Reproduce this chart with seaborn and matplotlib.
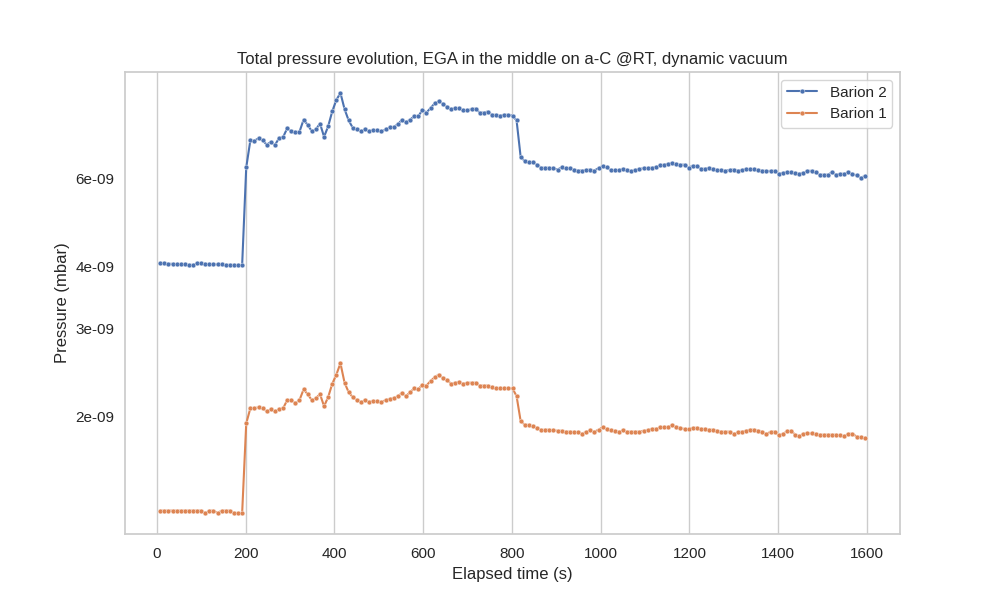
"""
Total pressure evolution plot (two Barion gauges, log scale).
"""

import numpy as np
import pandas as pd
import matplotlib
matplotlib.use("Agg")
import matplotlib.pyplot as plt
import matplotlib.ticker as mticker
import seaborn as sns

# Elapsed time of each sample (s)
elapsed_s = [
    7.5, 16.7, 26.0, 35.2, 44.4, 53.7, 62.9, 72.1, 81.3, 90.6,
    99.8, 109.0, 118.3, 127.5, 136.7, 145.9, 155.2, 164.4, 173.6, 182.9,
    192.1, 201.3, 210.6, 219.8, 229.0, 238.3, 247.5, 256.7, 265.9, 275.2,
    284.4, 293.6, 302.9, 312.1, 321.3, 330.6, 339.8, 349.0, 358.2, 367.5,
    376.7, 385.9, 395.2, 404.4, 413.6, 422.9, 432.1, 441.3, 450.5, 459.8,
    469.0, 478.2, 487.5, 496.7, 505.9, 515.2, 524.4, 533.6, 542.8, 552.1,
    561.3, 570.5, 579.8, 589.0, 598.2, 607.5, 616.7, 625.9, 635.1, 644.4,
    653.6, 662.8, 672.1, 681.3, 690.5, 699.8, 709.0, 718.2, 727.4, 736.7,
    745.9, 755.1, 764.4, 773.6, 782.8, 792.1, 801.3, 810.5, 819.7, 829.0,
    838.2, 847.4, 856.7, 865.9, 875.1, 884.4, 893.6, 902.8, 912.0, 921.3,
    930.5, 939.7, 949.0, 958.2, 967.4, 976.7, 985.9, 995.1, 1004.3, 1013.6,
    1022.8, 1032.0, 1041.3, 1050.5, 1059.7, 1069.0, 1078.2, 1087.4, 1096.6, 1105.9,
    1115.1, 1124.3, 1133.6, 1142.8, 1152.0, 1161.3, 1170.5, 1179.7, 1188.9, 1198.2,
    1207.4, 1216.6, 1225.9, 1235.1, 1244.3, 1253.6, 1262.8, 1272.0, 1281.2, 1290.5,
    1299.7, 1308.9, 1318.2, 1327.4, 1336.6, 1345.9, 1355.1, 1364.3, 1373.5, 1382.8,
    1392.0, 1401.2, 1410.5, 1419.7, 1428.9, 1438.2, 1447.4, 1456.6, 1465.8, 1475.1,
    1484.3, 1493.5, 1502.8, 1512.0, 1521.2, 1530.5, 1539.7, 1548.9, 1558.1, 1567.4,
    1576.6, 1585.8, 1595.1,
]

# Pressures in units of 1e-9 mbar
barion2_e9 = [
    4.06, 4.06, 4.05, 4.05, 4.04, 4.04, 4.04, 4.03, 4.03, 4.06,
    4.06, 4.05, 4.04, 4.04, 4.04, 4.04, 4.03, 4.03, 4.03, 4.02,
    4.03, 6.32,
    7.16, 7.15, 7.23, 7.16, 7.02, 7.11, 7.01, 7.23, 7.27, 7.57,
    7.47, 7.44, 7.45, 7.88, 7.69, 7.47, 7.53, 7.74, 7.28, 7.64,
    8.19, 8.63, 8.91,
    8.27, 7.85, 7.59, 7.53, 7.47, 7.53, 7.47, 7.50, 7.50, 7.46,
    7.53, 7.60, 7.62, 7.71, 7.87, 7.79, 7.88, 8.00, 8.00, 8.24,
    8.14, 8.31, 8.49, 8.58, 8.48, 8.36, 8.26, 8.30, 8.30, 8.22,
    8.22, 8.27, 8.29, 8.14, 8.14, 8.18, 8.06, 8.05, 8.02, 8.06,
    8.05, 8.03, 7.85,
    6.63, 6.51, 6.47, 6.47, 6.40, 6.31, 6.31, 6.31, 6.29, 6.26,
    6.32, 6.29, 6.29, 6.26, 6.23, 6.23, 6.24, 6.26, 6.23, 6.30,
    6.36, 6.32, 6.24, 6.24, 6.24, 6.27, 6.25, 6.21, 6.24, 6.27,
    6.30, 6.30, 6.31, 6.33, 6.38, 6.40, 6.42, 6.45, 6.42, 6.40,
    6.40, 6.31, 6.37, 6.36, 6.28, 6.28, 6.31, 6.27, 6.25, 6.24,
    6.23, 6.24, 6.26, 6.23, 6.24, 6.27, 6.27, 6.27, 6.24, 6.23,
    6.21, 6.22, 6.22, 6.14, 6.16, 6.18, 6.18, 6.16, 6.14, 6.16,
    6.22, 6.22, 6.18, 6.11, 6.11, 6.11, 6.18, 6.11, 6.13, 6.14,
    6.18, 6.13, 6.09, 6.03, 6.07,
]

barion1_e9 = [
    1.297, 1.297, 1.297, 1.297, 1.297, 1.297, 1.297, 1.297, 1.297, 1.297,
    1.297, 1.283, 1.297, 1.297, 1.283, 1.297, 1.297, 1.297, 1.283, 1.283,
    1.283, 1.94,
    2.08, 2.08, 2.09, 2.08, 2.05, 2.07, 2.05, 2.07, 2.08, 2.16,
    2.16, 2.13, 2.16, 2.27, 2.22, 2.16, 2.18, 2.22, 2.10, 2.19,
    2.33, 2.43, 2.56,
    2.34, 2.24, 2.19, 2.16, 2.14, 2.16, 2.14, 2.15, 2.15, 2.14,
    2.16, 2.17, 2.18, 2.20, 2.23, 2.20, 2.24, 2.28, 2.27, 2.32,
    2.31, 2.36, 2.40, 2.43, 2.39, 2.37, 2.33, 2.34, 2.35, 2.33,
    2.34, 2.34, 2.34, 2.31, 2.31, 2.31, 2.29, 2.28, 2.28, 2.28,
    2.28, 2.28, 2.20,
    1.96, 1.928, 1.926, 1.913, 1.901, 1.881, 1.884, 1.884, 1.878, 1.875,
    1.875, 1.867, 1.867, 1.864, 1.864, 1.849, 1.867, 1.878, 1.867, 1.884,
    1.905, 1.892, 1.878, 1.875, 1.867, 1.878, 1.867, 1.867, 1.867, 1.867,
    1.875, 1.878, 1.892, 1.892, 1.905, 1.908, 1.908, 1.926, 1.908, 1.899,
    1.890, 1.890, 1.899, 1.901, 1.892, 1.890, 1.884, 1.884, 1.875, 1.867,
    1.867, 1.867, 1.849, 1.861, 1.867, 1.875, 1.884, 1.884, 1.875, 1.867,
    1.846, 1.867, 1.867, 1.835, 1.849, 1.869, 1.875, 1.841, 1.829, 1.849,
    1.852, 1.852, 1.849, 1.841, 1.841, 1.841, 1.841, 1.841, 1.835, 1.829,
    1.849, 1.849, 1.826, 1.821, 1.813,
]

df = pd.DataFrame({
    "time": elapsed_s,
    "Barion 2": np.array(barion2_e9) * 1e-9,
    "Barion 1": np.array(barion1_e9) * 1e-9,
})

sns.set_theme(style="whitegrid")
plt.rcParams['font.family'] = ['Liberation Sans', 'DejaVu Sans']
plt.rcParams['axes.unicode_minus'] = False

fig, ax = plt.subplots(figsize=(10, 6))

# small round beads on the line, as in the original
line_kws = dict(marker="o", markersize=3.5, markeredgewidth=0.3)
sns.lineplot(data=df, x="time", y="Barion 2", label="Barion 2", ax=ax, **line_kws)
sns.lineplot(data=df, x="time", y="Barion 1", label="Barion 1", ax=ax, **line_kws)

ax.set_yscale("log")
ax.yaxis.set_minor_formatter(mticker.LogFormatter())
ax.set_xlabel("Elapsed time (s)")
ax.set_ylabel("Pressure (mbar)")
ax.set_title("Total pressure evolution, EGA in the middle on a-C @RT, dynamic vacuum")
ax.legend(loc="upper right")

fig.savefig("out.png", dpi=100)
plt.close(fig)
